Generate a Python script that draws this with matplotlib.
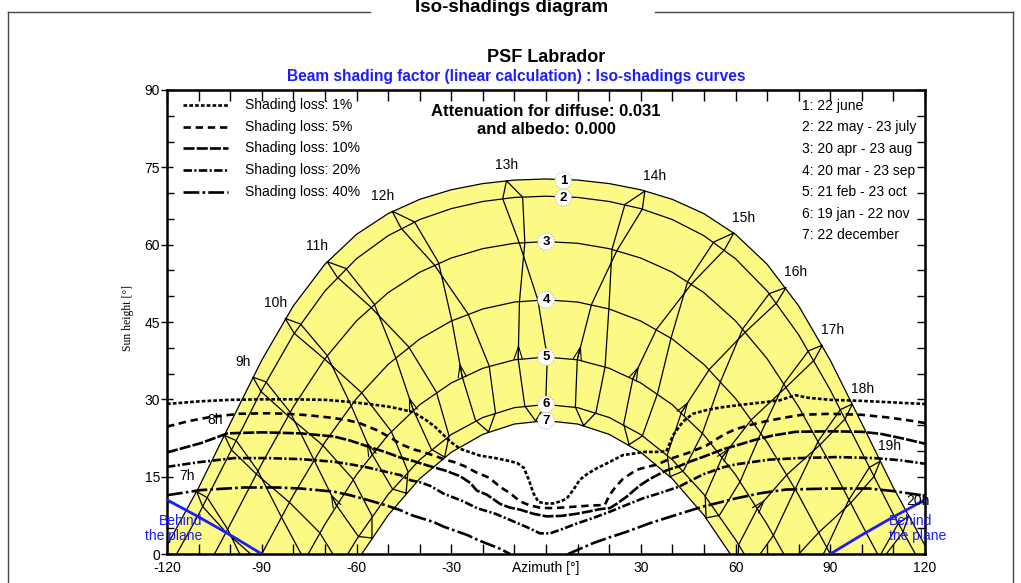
import numpy as np
import matplotlib.pyplot as plt
from matplotlib.lines import Line2D

plt.rcParams['font.family'] = ['Liberation Sans', 'DejaVu Sans']
plt.rcParams['axes.unicode_minus'] = False

# ---------------- data ----------------
# date curves: sun height [deg] at azimuth 0, 10, 20 ... (curves are symmetric)
DATE_STEP_AZ = [0, 10, 20, 30, 40, 50, 60, 70, 80, 90, 100, 110, 120]
DATE_H = [
    [72.74, 72.53, 71.85, 70.65, 68.79, 66.02, 62.0, 56.21, 48.13, 37.59, 25.31, 12.85, 1.66],
    [69.4, 69.16, 68.38, 66.99, 64.87, 61.74, 57.28, 51.01, 42.52, 31.81, 19.70, 7.65],
    [60.6, 60.27, 59.23, 57.41, 54.65, 50.69, 45.22, 37.89, 28.54, 17.48, 5.72],
    [49.3, 48.87, 47.53, 45.19, 41.69, 36.77, 30.17, 21.68, 11.41],
    [38.2, 37.67, 36.03, 33.18, 28.95, 23.09, 15.38, 5.76],
    [29.0, 28.39, 26.48, 23.17, 18.28, 11.55, 2.79],
    [25.86, 25.21, 23.21, 19.73, 14.59, 7.52],
]
SUNRISE_AZ = [121.65, 116.96, 104.97, 90.0, 75.29, 62.77, 58.35]
DATE_LABELS = ["1: 22 june", "2: 22 may - 23 july", "3: 20 apr - 23 aug",
               "4: 20 mar - 23 sep", "5: 21 feb - 23 oct", "6: 19 jan - 22 nov",
               "7: 22 december"]

# hour lines (legal time 7h..20h), one row per date, in calendar order
HOURS = [7, 8, 9, 10, 11, 12, 13, 14, 15, 16, 17, 18, 19, 20]
HOUR_DATES = ["22 dec", "19 jan", "21 feb", "20 mar", "20 apr", "22 may",
              "22 jun", "23 jul", "23 aug", "23 sep", "23 oct", "22 nov"]
HOUR_AZ = [
    [-73.7, -64.7, -55.1, -44.3, -32.1, -18.2, -3.3, 11.9, 26.3, 39.3, 50.7, 60.7, 69.9, 78.7],
    [-78.1, -69.0, -59.4, -48.6, -36.3, -22.3, -6.7, 9.3, 24.6, 38.4, 50.4, 61.0, 70.5, 79.6],
    [-86.0, -76.4, -66.4, -55.1, -42.0, -26.5, -8.8, 9.9, 27.5, 42.9, 55.8, 67.0, 77.0, 86.6],
    [-93.6, -83.8, -73.5, -61.7, -47.6, -29.8, -8.4, 14.4, 35.0, 51.7, 65.1, 76.3, 86.4, 96.2],
    [-100.8, -91.2, -81.0, -69.3, -54.4, -34.0, -6.7, 22.5, 46.1, 63.2, 76.1, 86.8, 96.5, 106.1],
    [-107.2, -98.1, -88.7, -77.7, -63.4, -41.6, -7.4, 30.5, 56.5, 73.0, 84.9, 94.7, 103.8, 113.0],
    [-110.6, -101.8, -92.8, -82.6, -69.3, -48.7, -12.5, 31.3, 59.5, 76.0, 87.5, 97.0, 105.8, 114.7],
    [-108.7, -99.6, -90.2, -79.7, -66.1, -45.9, -13.7, 25.0, 53.1, 70.7, 83.1, 93.2, 102.4, 111.5],
    [-101.3, -91.7, -81.7, -70.1, -55.5, -35.4, -8.5, 20.9, 44.9, 62.3, 75.4, 86.2, 95.9, 105.5],
    [-91.1, -81.2, -70.7, -58.4, -43.5, -24.7, -2.6, 19.9, 39.6, 55.3, 68.1, 78.9, 88.9, 98.8],
    [-81.4, -71.6, -61.1, -49.0, -34.7, -18.0, 0.4, 18.7, 35.3, 49.5, 61.5, 72.0, 81.7, 91.4],
    [-74.4, -65.2, -55.1, -43.7, -30.7, -16.0, -0.1, 15.8, 30.5, 43.5, 54.9, 65.0, 74.3, 83.3],
]
HOUR_H = [
    [-17.4, -6.7, 3.1, 11.8, 18.8, 23.7, 25.8, 24.9, 21.2, 15.0, 7.0, -2.4, -12.7, -23.7],
    [-17.7, -6.8, 3.4, 12.6, 20.3, 25.9, 28.7, 28.5, 25.2, 19.2, 11.2, 1.8, -8.5, -19.5],
    [-12.5, -1.3, 9.5, 19.4, 27.9, 34.3, 37.8, 37.7, 34.0, 27.5, 18.8, 8.9, -2.0, -13.2],
    [-4.2, 7.2, 18.3, 28.8, 38.1, 45.2, 49.0, 48.4, 43.6, 35.8, 26.1, 15.4, 4.2, -7.2],
    [4.8, 16.1, 27.5, 38.5, 48.5, 56.5, 60.4, 58.9, 52.4, 43.1, 32.4, 21.2, 9.9, -1.3],
    [10.9, 22.0, 33.4, 44.6, 55.4, 64.4, 69.2, 66.9, 59.0, 48.7, 37.6, 26.2, 15.0, 4.2],
    [12.1, 23.0, 34.3, 45.7, 56.7, 66.5, 72.4, 70.4, 62.3, 51.7, 40.5, 29.1, 18.0, 7.3],
    [9.2, 20.2, 31.5, 42.8, 53.7, 63.2, 68.9, 67.8, 60.5, 50.5, 39.4, 28.0, 16.8, 5.9],
    [4.2, 15.5, 26.8, 37.8, 47.9, 56.1, 60.4, 59.1, 52.9, 43.7, 33.1, 21.9, 10.5, -0.6],
    [-1.3, 10.0, 21.1, 31.3, 40.2, 46.6, 49.3, 47.5, 41.9, 33.5, 23.5, 12.6, 1.3, -10.0],
    [-7.0, 4.1, 14.5, 23.8, 31.4, 36.5, 38.2, 36.3, 31.1, 23.4, 14.1, 3.6, -7.4, -18.8],
    [-13.0, -2.3, 7.4, 16.0, 22.9, 27.4, 29.0, 27.4, 22.9, 16.1, 7.5, -2.4, -13.0, -24.1],
]

# iso-shading curves
ISO_LEVELS = ["1%", "5%", "10%", "20%", "40%"]
ISO_1_AZ = [-120, -110, -100, -90, -80, -70, -62, -55, -50, -46, -42, -38, -35, -30.3, -27.2,
            -21, -16, -11.4, -9, -7, -5.5, -4, -2.4, 0, 2.3, 4.5, 6.5, 8.6, 10.7, 13, 16, 20,
            24.4, 28, 31, 35, 38.1, 40.2, 43.4, 46.5, 50.7, 55, 61.3, 67, 73.9, 79, 83, 90,
            100, 110, 120]
ISO_1_H = [29.1, 29.6, 29.9, 30.0, 30.0, 29.9, 29.5, 29.0, 28.6, 28.1, 27.5, 26.0, 24.6, 21.8,
           20.4, 19.1, 18.6, 18.0, 17.6, 16.7, 14.5, 11.8, 10.1, 9.8, 9.8, 10.2, 10.7, 12.4,
           14.4, 15.5, 16.6, 17.8, 19.2, 19.5, 19.8, 19.8, 19.9, 23.0, 25.7, 27.2, 27.9, 28.4,
           28.9, 29.3, 29.8, 30.8, 30.3, 29.9, 29.7, 29.4, 29.1]
ISO_5_AZ = [-120, -113, -106, -97, -88, -82, -75, -69, -63, -58.7, -53.5, -49, -46, -42, -39,
            -35, -32.4, -29, -26, -22, -18, -14.5, -11.4, -8.2, -5, -2, 1.3, 5, 9.7, 14, 18.6,
            20.2, 22, 24.4, 28.6, 32, 35, 39, 45, 50.7, 54, 57.1, 60, 64.4, 70, 76, 81, 90,
            100, 108, 114, 120]
ISO_5_H = [24.7, 25.8, 26.6, 27.2, 27.3, 27.2, 26.9, 26.5, 26.0, 25.3, 24.0, 22.5, 21.3, 20.3,
           19.8, 19.0, 18.4, 17.8, 17.1, 15.8, 14.8, 13.0, 11.8, 10.2, 9.4, 9.0, 8.9, 9.0, 9.2,
           9.4, 9.5, 11.5, 13.0, 14.6, 16.3, 16.9, 17.3, 18.4, 19.6, 21.0, 22.3, 23.4, 24.2,
           25.0, 25.8, 26.5, 27.0, 27.2, 27.0, 26.5, 26.0, 25.4]
ISO_10_AZ = [-120, -109.3, -100.8, -90, -77.7, -67.2, -62, -56.6, -51, -46.1, -42.9, -36.6,
             -32, -27.2, -24, -21.9, -18.7, -14.5, -11.4, -8.2, -4, 0.2, 5, 9.7, 14, 17.1,
             20.2, 22.3, 25.5, 29.7, 33, 38.1, 42, 45.5, 50, 56, 60, 66.5, 72, 79, 90, 100,
             106, 113, 120]
ISO_10_H = [19.7, 21.5, 23.4, 23.6, 23.4, 22.8, 22.0, 20.9, 19.8, 18.7, 18.2, 17.0, 16.2, 15.1,
            13.8, 12.3, 11.5, 9.7, 9.0, 8.6, 7.8, 7.3, 7.4, 7.8, 8.3, 8.7, 8.9, 9.7, 11.1,
            13.3, 14.6, 16.2, 17.0, 17.9, 18.9, 20.3, 21.0, 22.2, 23.0, 23.7, 23.8, 23.7,
            23.3, 22.4, 21.4]
ISO_20_AZ = [-120, -110, -98.7, -88, -77.7, -67.2, -62, -56.6, -51, -46.1, -42.9, -39.8,
             -36.6, -32.4, -26.1, -21.9, -16, -11.4, -6, -1.9, 1.3, 5, 9.7, 15, 20.2, 25,
             30.7, 36, 42.3, 46, 50, 56, 60.2, 66, 70.7, 80, 92, 104, 112, 120]
ISO_20_H = [16.9, 17.8, 18.6, 18.6, 18.4, 17.9, 17.4, 16.8, 16.0, 15.3, 14.3, 13.9, 13.2, 11.7,
            10.2, 8.9, 7.8, 6.6, 5.2, 4.0, 4.0, 4.8, 5.9, 7.0, 8.2, 9.4, 10.8, 11.8, 13.1,
            14.3, 15.5, 16.8, 17.4, 17.9, 18.3, 18.6, 18.8, 18.6, 18.2, 17.5]
ISO_40_AZ = [-120, -109.3, -95.6, -85, -77.7, -67.2, -62, -56.6, -51, -46.1, -42.9, -35.6,
             -32.4, -25, -21.9, -14.5, -11.4, np.nan, 7.0, 14.9, 20, 25.5, 33, 42.3, 49.7, 55,
             60.2, 68, 76, 90, 102.3, 110, 120]
ISO_40_H = [11.4, 12.4, 12.9, 12.9, 12.7, 12.1, 11.4, 10.5, 9.5, 8.5, 7.6, 6.2, 5.3, 3.7, 2.8,
            1.0, 0.0, np.nan, 0.0, 2.1, 3.2, 4.3, 6.0, 7.8, 9.2, 10.0, 10.8, 11.8, 12.5, 12.7,
            12.7, 12.2, 11.3]

# "behind the plane" limits
BEHIND_L_AZ = [-120, -110, -100, -90]
BEHIND_L_H = [10.5, 7.2, 3.7, 0.0]
BEHIND_R_AZ = [90, 100, 110, 120]
BEHIND_R_H = [0.0, 3.7, 7.2, 10.5]

XTICKS = [-120, -90, -60, -30, 0, 30, 60, 90, 120]
XTICK_LABELS = ["-120", "-90", "-60", "-30", "", "30", "60", "90", "120"]

# ---------------- drawing ----------------
W, H = 1021, 583
YELLOW = "#fcf985"
BLUE = "#1c1cff"


def fx(px):
    return px / W


def fy(py):
    return 1 - py / H


def full_curve(i):
    half_az = DATE_STEP_AZ[:len(DATE_H[i])] + [SUNRISE_AZ[i]]
    half_h = DATE_H[i] + [0.0]
    az = [-a for a in half_az[::-1]] + half_az[1:]
    h = half_h[::-1] + half_h[1:]
    return np.array(az), np.array(h)


fig = plt.figure(figsize=(W / 100, H / 100), dpi=100)
ax = fig.add_axes([fx(167), fy(554), (925 - 167) / W, (554 - 90) / H])
ax.set_xlim(-120, 120)
ax.set_ylim(0, 90)

# yellow band between 22 june and 22 december
az1, h1 = full_curve(0)
az7, h7 = full_curve(6)
ax.fill(np.concatenate([az1, az7[::-1]]), np.concatenate([h1, h7[::-1]]),
        color=YELLOW, lw=0, zorder=1)

for i in range(len(DATE_H)):
    ax.plot(*full_curve(i), color="black", lw=0.9, zorder=2)

haz = np.array(HOUR_AZ)
hh = np.array(HOUR_H)
feb, mar, jun = HOUR_DATES.index("21 feb"), HOUR_DATES.index("20 mar"), HOUR_DATES.index("22 jun")
for j, hour in enumerate(HOURS):
    ax.plot(np.append(haz[:, j], haz[0, j]), np.append(hh[:, j], hh[0, j]),
            color="black", lw=0.9, zorder=2)
    # small arrow giving the direction (feb -> mar)
    x0, y0, x1, y1 = haz[feb, j], hh[feb, j], haz[mar, j], hh[mar, j]
    if y0 > 2:
        ax.annotate("", xy=(x0 + 0.25 * (x1 - x0), y0 + 0.25 * (y1 - y0)), xytext=(x0, y0),
                    arrowprops=dict(arrowstyle="->,head_length=0.9,head_width=0.3",
                                    lw=0.8, color="black", shrinkA=0, shrinkB=0), zorder=2)
    a = haz[jun, j]
    dx = 7 * np.sign(a) if abs(a) > 25 else 0
    ax.annotate(f"{hour}h", (a, hh[jun, j]), xytext=(dx, 11), textcoords="offset points",
                ha="center", va="center", fontsize=10, zorder=5)

# circled date numbers
for i in range(len(DATE_H)):
    tag_az = 5.5 if i < 2 else 0.0
    ax.text(tag_az, DATE_H[i][0] - (0.3 if i < 2 else 0), str(i + 1), ha="center", va="center",
            fontsize=9.5, fontweight="bold", zorder=6,
            bbox=dict(boxstyle="circle,pad=0.18", fc="white", ec="#b0b0b0", ls=":", lw=0.8))

# iso-shading curves
iso_az = [ISO_1_AZ, ISO_5_AZ, ISO_10_AZ, ISO_20_AZ, ISO_40_AZ]
iso_h = [ISO_1_H, ISO_5_H, ISO_10_H, ISO_20_H, ISO_40_H]
iso_dash = [(1.4, 0.8), (2.8, 1.8), (4.2, 0.8), (3.2, 0.9, 0.8, 0.9), (6.0, 1.2, 1.0, 1.2)]
for az, h, dash in zip(iso_az, iso_h, iso_dash):
    ax.plot(az, h, color="black", lw=1.9, dashes=dash, zorder=3)

# behind the plane
ax.plot(BEHIND_L_AZ, BEHIND_L_H, color=BLUE, lw=2, zorder=4)
ax.plot(BEHIND_R_AZ, BEHIND_R_H, color=BLUE, lw=2, zorder=4)
ax.text(-108.7, 5.0, "Behind\nthe plane", color=BLUE, ha="right", va="center",
        fontsize=10, linespacing=1.1, zorder=6)
ax.text(108.6, 5.0, "Behind\nthe plane", color=BLUE, ha="left", va="center",
        fontsize=10, linespacing=1.1, zorder=6)

# legends drawn by hand, in axes coordinates
for i, (lvl, dash) in enumerate(zip(ISO_LEVELS, iso_dash)):
    y = (554 - (105 + 21.7 * i)) / 464
    ax.add_line(Line2D([0.0211, 0.0805], [y, y], transform=ax.transAxes, color="black",
                       lw=1.9, dashes=dash, clip_on=False, zorder=6))
    ax.text(0.1029, y, f"Shading loss: {lvl}", transform=ax.transAxes, ha="left",
            va="center", fontsize=10, zorder=6)
for i, lab in enumerate(DATE_LABELS):
    y = (554 - (105.7 + 21.6 * i)) / 464
    ax.text(0.8373, y, lab, transform=ax.transAxes, ha="left", va="center",
            fontsize=10, zorder=6)

ax.text(0, 84.0, "Attenuation for diffuse: 0.031\nand albedo: 0.000", ha="center", va="center",
        fontsize=12, fontweight="bold", linespacing=1.25, zorder=6)

# axes, ticks
for s in ax.spines.values():
    s.set_linewidth(1.8)
ax.set_xticks(XTICKS, labels=XTICK_LABELS)
ax.set_xticks(np.arange(-120, 121, 10), minor=True)
ax.set_yticks(np.arange(0, 91, 15))
ax.set_yticks(np.arange(0, 91, 5), minor=True)
ax.tick_params(axis="x", which="both", direction="in", length=7, width=1, labelsize=10, pad=5)
ax.tick_params(axis="y", which="major", direction="inout", length=8, width=1, labelsize=10, pad=1)
ax.tick_params(axis="y", which="minor", direction="in", length=5, width=1)
top = ax.secondary_xaxis("top")
top.set_xticks(np.arange(-120, 121, 10))
top.tick_params(direction="in", length=8, width=1, labeltop=False)
right = ax.secondary_yaxis("right")
right.set_yticks(np.arange(0, 91, 5))
right.tick_params(direction="in", length=6, width=1, labelright=False)
ax.text(0.5, -0.03, "Azimuth [°]", transform=ax.transAxes, ha="center", va="center", fontsize=10)
fig.text(fx(128), fy(318), "Sun height [°]", rotation=90, ha="center", va="center",
         fontsize=8.5, family="Liberation Serif")

# titles and frame
fig.text(fx(546), fy(58), "PSF Labrador", ha="center", va="center", fontsize=13,
         fontweight="bold")
fig.text(fx(516), fy(76), "Beam shading factor (linear calculation) : Iso-shadings curves",
         ha="center", va="center", fontsize=11.2, fontweight="bold", color=BLUE)
fig.text(fx(512), fy(8), "Iso-shadings diagram", ha="center", va="center", fontsize=13.5,
         fontweight="bold")
for xs, ys in [([8, 370], [12, 12]), ([655, 1013], [12, 12]), ([8, 8], [12, 583]),
               ([1013, 1013], [12, 583])]:
    fig.add_artist(Line2D([fx(x) for x in xs], [fy(y) for y in ys], color="#444444", lw=1))

fig.savefig("out.png", dpi=100)
